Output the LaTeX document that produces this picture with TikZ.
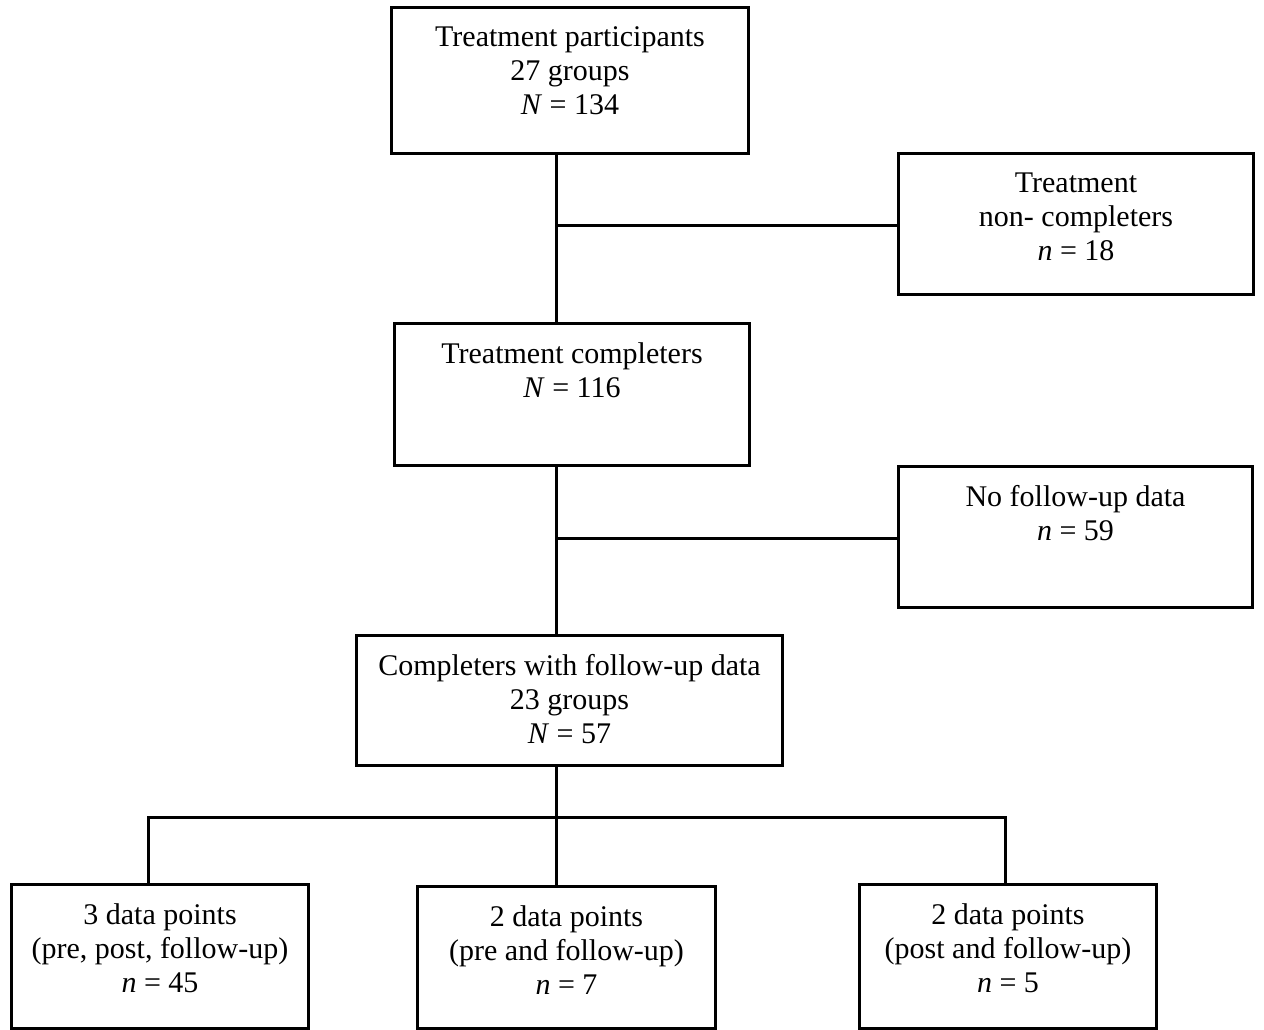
\documentclass[tikz,border=0pt]{standalone}
\usepackage{fontspec}
\setmainfont{Liberation Serif}
\begin{document}
\begin{tikzpicture}[x=1pt,y=-1pt,line width=3pt,
  box/.style={draw, line width=3pt, inner sep=0pt, anchor=north west},
  txt/.style={align=center, inner sep=0pt, anchor=north, font=\fontsize{30}{34}\selectfont},
  conn/.style={draw, line width=3pt}]
\useasboundingbox (0,0) rectangle (1264,1030);
\clip (0,0) rectangle (1264,1030);
\fill[white] (0,0) rectangle (1264,1030);
% boxes
\node[box, minimum width=357pt, minimum height=146pt] (b1) at (390,6) {};
\node[box, minimum width=355pt, minimum height=141pt] (b2) at (897,152) {};
\node[box, minimum width=355pt, minimum height=142pt] (b3) at (393,322) {};
\node[box, minimum width=354pt, minimum height=141pt] (b4) at (897,465) {};
\node[box, minimum width=426pt, minimum height=130pt] (b5) at (355,634) {};
\node[box, minimum width=297pt, minimum height=144pt] (b6) at (10,883) {};
\node[box, minimum width=298pt, minimum height=142pt] (b7) at (416,885) {};
\node[box, minimum width=297pt, minimum height=144pt] (b8) at (858,883) {};
% texts
\node[txt] (t1) at ([yshift=-19pt]b1.north) {Treatment participants\\27 groups\\\textit{N} = 134};
\node[txt] (t2) at ([yshift=-19pt]b2.north) {Treatment\\non- completers\\\textit{n} = 18};
\node[txt] (t3) at ([yshift=-19pt]b3.north) {Treatment completers\\\textit{N} = 116};
\node[txt] (t4) at ([yshift=-19pt]b4.north) {No follow-up data\\\textit{n} = 59};
\node[txt] (t5) at ([yshift=-19pt]b5.north) {Completers with follow-up data\\23 groups\\\textit{N} = 57};
\node[txt] (t6) at ([yshift=-19pt]b6.north) {3 data points\\(pre, post, follow-up)\\\textit{n} = 45};
\node[txt] (t7) at ([yshift=-19pt]b7.north) {2 data points\\(pre and follow-up)\\\textit{n} = 7};
\node[txt] (t8) at ([yshift=-19pt]b8.north) {2 data points\\(post and follow-up)\\\textit{n} = 5};
% connectors
\coordinate (spine) at (556,0);
\coordinate (j1) at (556,225);
\coordinate (j2) at (556,538);
\coordinate (j3) at (556,817);
\coordinate (L) at (148,817);
\coordinate (R) at (1005,817);
\path[conn] (b1.south -| spine) -- (b3.north -| spine);
\path[conn] (j1) -- (j1 -| b2.west);
\path[conn] (b3.south -| spine) -- (b5.north -| spine);
\path[conn] (j2) -- (j2 -| b4.west);
\path[conn] (b5.south -| spine) -- (j3);
\path[conn] (b6.north -| L) -- (L) -- (R) -- (b8.north -| R);
\path[conn] (j3) -- (b7.north -| j3);
\end{tikzpicture}
\end{document}
